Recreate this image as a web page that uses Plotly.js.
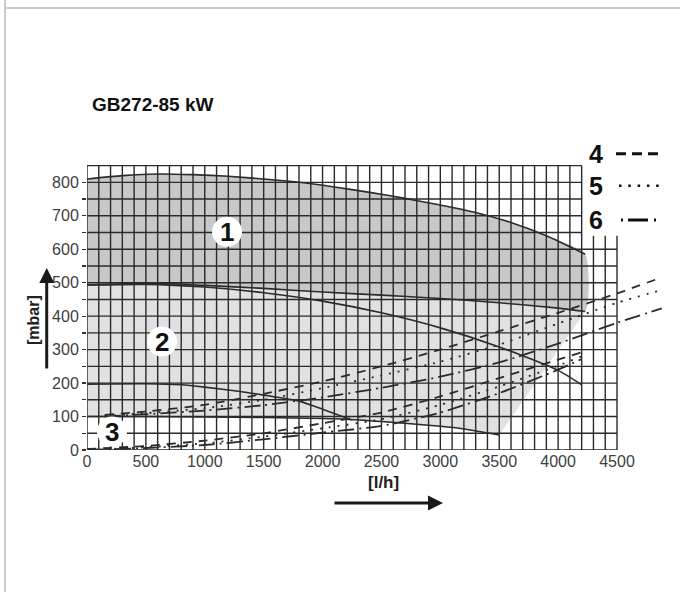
<!DOCTYPE html>
<html>
<head>
<meta charset="utf-8">
<script src="https://cdn.plot.ly/plotly-3.0.1.min.js"></script>
<style>
html,body{margin:0;padding:0;background:#fff;}
#chart{position:absolute;left:0;top:0;width:680px;height:592px;}
.fr{position:absolute;background:#c9cdd2;}
</style>
</head>
<body>
<div id="chart"></div>
<div class="fr" style="left:4px;top:0;width:2px;height:592px"></div>
<div class="fr" style="left:4px;top:7px;width:676px;height:2px"></div>
<script>
// ---- tick labels ----
const flowTicks = [0, 500, 1000, 1500, 2000, 2500, 3000, 3500, 4000, 4500];
const pressureTicks = [0, 100, 200, 300, 400, 500, 600, 700, 800];

// ---- pump curves (flow l/h, residual head mbar) ----
const pumpTopX = [0, 300, 600, 900, 1200, 1500, 1800, 2100, 2400, 2700, 3000, 3300, 3600, 3900, 4230];
const pumpTopY = [810, 820, 825, 823, 818, 810, 800, 786, 770, 752, 732, 710, 680, 640, 585];

const pumpMidX = [0, 300, 600, 1000, 1500, 2000, 2500, 3000, 3500, 4000, 4230];
const pumpMidY = [493, 497, 498, 492, 483, 472, 463, 453, 440, 424, 414];

const pumpSteepX = [0, 500, 1000, 1500, 2000, 2500, 3000, 3500, 4000, 4200];
const pumpSteepY = [493, 495, 487, 470, 445, 410, 365, 308, 238, 195];

const pump200X = [0, 500, 800, 1000, 1300, 1500, 1800, 2000, 2250];
const pump200Y = [197, 198, 195, 188, 175, 164, 146, 122, 90];

const pumpLowX = [0, 500, 1000, 1500, 2000, 2200, 2500, 3000, 3200, 3500];
const pumpLowY = [100, 100, 99, 97, 94, 92, 85, 71, 63, 45];

// ---- system curves 4 (dashed), 5 (dotted), 6 (dash-dot) ----
const sysUpperX = [150, 500, 1000, 1500, 2000, 2500, 3000, 3500, 4000, 4500, 4880];
const sys4Upper = [105, 115, 135, 168, 205, 250, 300, 355, 410, 468, 516];
const sys5Upper = [102, 110, 125, 150, 185, 223, 264, 315, 378, 440, 478];
const sys6Upper = [100, 107, 118, 134, 157, 186, 219, 262, 318, 380, 423];

const sysLowerX = [0, 500, 1000, 1500, 2000, 2500, 3000, 3500, 4000, 4200];
const sys4Lower = [3, 12, 28, 50, 80, 112, 160, 215, 270, 292];
const sys5Lower = [0, 8, 20, 40, 65, 92, 135, 190, 252, 280];
const sys6Lower = [0, 6, 15, 32, 52, 72, 112, 170, 240, 272];

// ---- labels ----
const zoneLabels = ['1', '2', '3'];
const zoneX = [1189, 637, 212];
const zoneY = [652, 324, 55];
const legendLabels = ['4', '5', '6'];

// ---- styling ----
const INK = '#2b2b2b';
const GRID = '#2a2a2a';
const FONT = 'Liberation Sans, Arial, Helvetica, sans-serif';

// grid (100 l/h x 50 mbar), main part to 850 mbar / 4200 l/h, extension to 4500 l/h below 650
const gx = [], gy = [];
for (let x = 0; x <= 4500; x += 100) {
  gx.push(x, x, null); gy.push(0, x <= 4200 ? 850 : 640, null);
}
for (let y = 0; y <= 850; y += 50) {
  gx.push(0, y <= 600 ? 4500 : 4200, null); gy.push(y, y, null);
}

const darkX = pumpTopX.concat(pumpMidX.slice().reverse());
const darkY = pumpTopY.concat(pumpMidY.slice().reverse());
const lightX = pumpMidX.concat(pumpLowX.slice().reverse());
const lightY = pumpMidY.concat(pumpLowY.slice().reverse());

const solid = (x, y) => ({x, y, type:'scatter', mode:'lines', line:{color:INK, width:1.6, shape:'spline', smoothing:0.6}, hoverinfo:'skip'});
const DASH4 = '9px,7px', DASH5 = '2px,7px', DASH6 = '16px,5px,2px,5px';
const sys = (x, y, d) => ({x, y, type:'scatter', mode:'lines', line:{color:INK, width:1.8, dash:d, shape:'spline', smoothing:0.6}, hoverinfo:'skip'});

const traces = [
  {x: darkX, y: darkY, type:'scatter', mode:'lines', fill:'toself', fillcolor:'#c8c8ca', line:{width:0, shape:'spline', smoothing:0.6}, hoverinfo:'skip'},
  {x: lightX, y: lightY, type:'scatter', mode:'lines', fill:'toself', fillcolor:'#e1e1e3', line:{width:0}, hoverinfo:'skip'},
  {x: gx, y: gy, type:'scatter', mode:'lines', line:{color:GRID, width:1.4}, hoverinfo:'skip', connectgaps:false},
  solid(pumpTopX, pumpTopY),
  solid(pumpMidX, pumpMidY),
  solid(pumpSteepX, pumpSteepY),
  solid(pump200X, pump200Y),
  solid(pumpLowX, pumpLowY),
  sys(sysUpperX, sys4Upper, DASH4),
  sys(sysUpperX, sys5Upper, DASH5),
  sys(sysUpperX, sys6Upper, DASH6),
  sys(sysLowerX, sys4Lower, DASH4),
  sys(sysLowerX, sys5Lower, DASH5),
  sys(sysLowerX, sys6Lower, DASH6)
];

const yTickVals = [], yTickText = [];
for (let v = 0; v <= 800; v += 50) {
  yTickVals.push(v);
  yTickText.push(pressureTicks.indexOf(v) >= 0 ? String(v) : '');
}

const shapes = [];
zoneLabels.forEach((t, i) => {
  shapes.push({type:'circle', xref:'x', yref:'y', xsizemode:'pixel', ysizemode:'pixel',
    xanchor: zoneX[i], yanchor: zoneY[i], x0:-15, x1:15, y0:-15, y1:15,
    fillcolor:'#ffffff', line:{width:0}, layer:'above'});
});
const legDash = ['10px,6px', '2.5px,6.8px', '2px,5px,20px,6px'];
const legY = [0.926, 0.826, 0.719];
const legX0 = [0.9168, 0.922, 0.9255];
legendLabels.forEach((t, i) => {
  shapes.push({type:'line', xref:'paper', yref:'paper', x0:legX0[i], x1:0.9931, y0:legY[i], y1:legY[i],
    line:{color:'#111', width:i === 1 ? 2.5 : 3, dash:legDash[i]}});
});

const annotations = [];
zoneLabels.forEach((t, i) => {
  annotations.push({x: zoneX[i], y: zoneY[i], xref:'x', yref:'y', text:'<b>' + t + '</b>', showarrow:false,
    xanchor:'center', yanchor:'middle', font:{family:FONT, size:26, color:'#111'}});
});
legendLabels.forEach((t, i) => {
  annotations.push({x: 0.8813, y: legY[i], xref:'paper', yref:'paper', text:'<b>' + t + '</b>', showarrow:false,
    xanchor:'center', yanchor:'middle', font:{family:FONT, size:25, color:'#111'}});
});
annotations.push({x:-0.0936, y:0.406, xref:'paper', yref:'paper', text:'<b>[mbar]</b>', textangle:-90, showarrow:false,
  xanchor:'center', yanchor:'middle', font:{family:FONT, size:16, color:'#222'}});
annotations.push({x:0.513, y:-0.1, xref:'paper', yref:'paper', text:'<b>[l/h]</b>', showarrow:false,
  xanchor:'center', yanchor:'middle', font:{family:FONT, size:17, color:'#222'}});
annotations.push({x:0.617, y:-0.1656, xref:'paper', yref:'paper', text:'', showarrow:true, ax:-110, ay:0,
  arrowhead:2, arrowsize:1, arrowwidth:3, arrowcolor:'#1a1a1a'});
annotations.push({x:-0.0698, y:0.569, xref:'paper', yref:'paper', text:'', showarrow:true, ax:0, ay:102,
  arrowhead:2, arrowsize:1, arrowwidth:3, arrowcolor:'#1a1a1a'});

const layout = {
  width:680, height:592,
  margin:{l:87, r:16, t:130, b:142},
  paper_bgcolor:'rgba(0,0,0,0)', plot_bgcolor:'rgba(0,0,0,0)',
  showlegend:false,
  title:{text:'<b>GB272-85 kW</b>', x:92/680, xref:'container', xanchor:'left', y:1 - 104/592, yref:'container', yanchor:'middle',
    font:{family:FONT, size:19, color:'#111'}},
  xaxis:{range:[0, 4899], showgrid:false, zeroline:false, showline:false, ticks:'', tickmode:'array',
    tickvals:flowTicks, ticktext:flowTicks.map(String), tickfont:{family:FONT, size:16, color:'#404040'}, fixedrange:true},
  yaxis:{range:[0, 956.4], showgrid:false, zeroline:false, showline:false, ticks:'outside', ticklen:4, tickwidth:1.3,
    tickcolor:'#333', tickmode:'array', tickvals:yTickVals, ticktext:yTickText,
    tickfont:{family:FONT, size:16, color:'#404040'}, fixedrange:true},
  shapes, annotations
};

Plotly.newPlot('chart', traces, layout, {displayModeBar:false, staticPlot:true});
</script>
</body>
</html>
